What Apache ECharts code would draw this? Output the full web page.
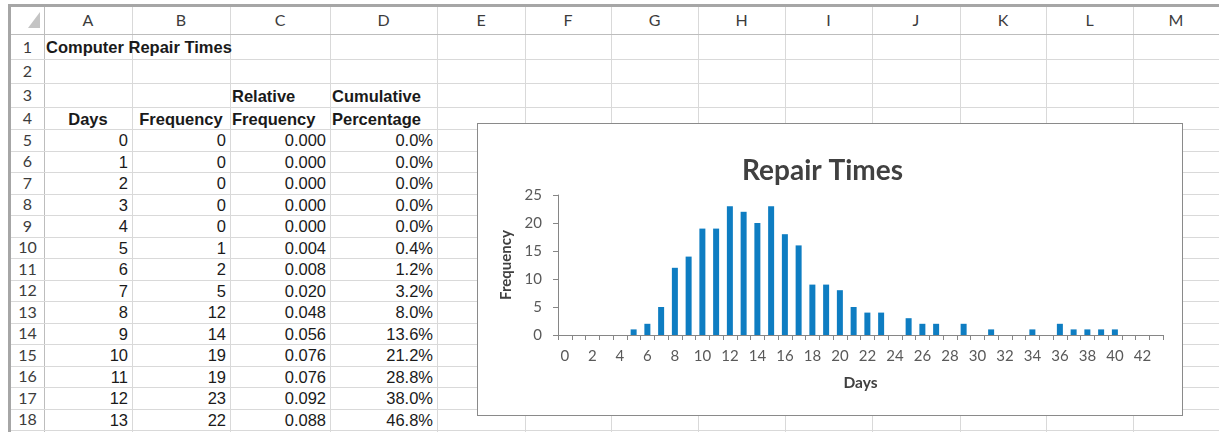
<!DOCTYPE html>
<html>
<head>
<meta charset="utf-8">
<script src="https://cdn.jsdelivr.net/npm/echarts@6/dist/echarts.min.js"></script>
<style>
  html, body { margin: 0; padding: 0; background: #fff; width: 1219px; height: 432px; overflow: hidden; }
  #sheet { position: absolute; left: 0; top: 0; width: 1219px; height: 432px; }
  .vl { position: absolute; width: 1px; background: #d9d9d9; }
  .hl { position: absolute; height: 1px; background: #d9d9d9; }
  .cell { position: absolute; font-family: "Liberation Sans", Arial, sans-serif; font-size: 16.5px; color: #1a1a1a; white-space: nowrap; line-height: 1; }
  .hdr { position: absolute; font-family: "Lato", "Open Sans", sans-serif; font-size: 16px; color: #3c3c3c; line-height: 1; }
  #chart { position: absolute; left: 477px; top: 123px; width: 706px; height: 293px; box-sizing: border-box; border: 1px solid #8a8a8a; background: #fff; }
</style>
</head>
<body>
<div id="sheet"></div>
<div id="chart"></div>
<script>
// ---------- data ----------
const colLetters = ['A','B','C','D','E','F','G','H','I','J','K','L','M'];
const tableTitle = 'Computer Repair Times';
const headRow3 = ['', '', 'Relative', 'Cumulative'];
const headRow4 = ['Days', 'Frequency', 'Frequency', 'Percentage'];
const tableDays = ['0','1','2','3','4','5','6','7','8','9','10','11','12','13'];
const tableFreq = ['0','0','0','0','0','1','2','5','12','14','19','19','23','22'];
const tableRel  = ['0.000','0.000','0.000','0.000','0.000','0.004','0.008','0.020','0.048','0.056','0.076','0.076','0.092','0.088'];
const tableCum  = ['0.0%','0.0%','0.0%','0.0%','0.0%','0.4%','1.2%','3.2%','8.0%','13.6%','21.2%','28.8%','38.0%','46.8%'];

const chartTitle = 'Repair Times';
const xAxisName = 'Days';
const yAxisName = 'Frequency';
const dayCategories = ['0','1','2','3','4','5','6','7','8','9','10','11','12','13','14','15','16','17','18','19','20','21','22','23','24','25','26','27','28','29','30','31','32','33','34','35','36','37','38','39','40','41','42','43'];
const frequency = [0,0,0,0,0,1,2,5,12,14,19,19,23,22,20,23,18,16,9,9,8,5,4,4,0,3,2,2,0,2,0,1,0,0,1,0,2,1,1,1,1,0,0,0];

// ---------- spreadsheet layout ----------
const colX = [11, 44, 132, 230, 330, 437, 525, 611, 698, 785, 872, 960, 1046, 1133, 1219];
const rowY = [7, 34, 59, 83, 107, 129];
for (let i = 0; i < 14; i++) rowY.push(129 + (i + 1) * 21.5);

const sheet = document.getElementById('sheet');
function add(cls, css, text) {
  const d = document.createElement('div');
  d.className = cls;
  Object.assign(d.style, css);
  if (text !== undefined) d.textContent = text;
  sheet.appendChild(d);
  return d;
}
// outer frame
add('hl', {left: '8px', top: '4px', width: '1211px', height: '3px', background: '#a6a6a6'});
add('vl', {left: '8px', top: '4px', width: '3px', height: '428px', background: '#a6a6a6'});
// vertical grid lines
colX.forEach((x, i) => { if (i > 0 && i < colX.length - 1) add('vl', {left: x + 'px', top: '7px', height: '425px', background: i === 1 ? '#bdbdbd' : '#d9d9d9'}); });
// horizontal grid lines
rowY.forEach((y, i) => { if (i > 0) add('hl', {left: '11px', top: Math.round(y) + 'px', width: '1208px', background: i === 1 ? '#bdbdbd' : '#d9d9d9'}); });
// corner triangle
add('vl', {left: '28px', top: '12px', width: '0', height: '0', background: 'transparent',
  borderLeft: '12px solid transparent', borderBottom: '16px solid #c4c4c4'});
// column letters
colLetters.forEach((c, i) => {
  const cx = (colX[i + 1] + colX[i + 2]) / 2;
  add('hdr', {left: (cx - 20) + 'px', width: '40px', textAlign: 'center', top: '12px'}, c);
});
// row numbers
for (let r = 1; r <= 18; r++) {
  const y0 = rowY[r], y1 = rowY[r + 1];
  add('hdr', {left: '11px', width: '33px', textAlign: 'center', top: ((y0 + y1) / 2 - 8) + 'px'}, String(r));
}
function cellText(colIdx, rowIdx, text, align, bold) {
  const x0 = colX[colIdx + 1], x1 = colX[colIdx + 2];
  const y0 = rowY[rowIdx], y1 = rowY[rowIdx + 1];
  const css = {top: ((y0 + y1) / 2 - 7.5) + 'px', fontWeight: bold ? 'bold' : 'normal'};
  if (align === 'right') { css.left = x0 + 'px'; css.width = (x1 - x0 - 4) + 'px'; css.textAlign = 'right'; }
  else if (align === 'center') { css.left = x0 + 'px'; css.width = (x1 - x0) + 'px'; css.textAlign = 'center'; }
  else { css.left = (x0 + 2) + 'px'; }
  add('cell', css, text);
}
cellText(0, 1, tableTitle, 'left', true);
headRow3.forEach((t, i) => { if (t) cellText(i, 3, t, 'left', true); });
headRow4.forEach((t, i) => cellText(i, 4, t, i < 2 ? 'center' : 'left', true));
for (let i = 0; i < tableDays.length; i++) {
  cellText(0, 5 + i, tableDays[i], 'right');
  cellText(1, 5 + i, tableFreq[i], 'right');
  cellText(2, 5 + i, tableRel[i], 'right');
  cellText(3, 5 + i, tableCum[i], 'right');
}

// ---------- chart ----------
const chart = echarts.init(document.getElementById('chart'), null, {renderer: 'canvas'});
const axisColor = '#868686';
const labelFont = {fontFamily: 'Lato', fontSize: 15, color: '#595959'};
chart.setOption({
  animation: false,
  title: {
    text: chartTitle, left: 259, top: 28,
    textStyle: {fontFamily: 'Lato', fontWeight: 'bold', fontSize: 28, color: '#404040'}
  },
  grid: {left: 80, top: 71, width: 605, height: 140, containLabel: false},
  xAxis: {
    type: 'category', data: dayCategories, boundaryGap: true,
    name: xAxisName, nameLocation: 'middle', nameGap: 40,
    nameTextStyle: {fontFamily: 'Lato', fontWeight: 'bold', fontSize: 15.5, color: '#404040'},
    axisLine: {show: true, lineStyle: {color: axisColor, width: 1}},
    axisTick: {show: true, interval: 0, length: 5, lineStyle: {color: axisColor}},
    axisLabel: Object.assign({interval: 1, margin: 14}, labelFont),
    splitLine: {show: false}
  },
  yAxis: {
    type: 'value', min: 0, max: 25, interval: 5,
    name: yAxisName, nameLocation: 'middle', nameGap: 42, nameRotate: 90,
    nameTextStyle: {fontFamily: 'Lato', fontWeight: 'bold', fontSize: 15, color: '#404040'},
    axisLine: {show: true, lineStyle: {color: axisColor, width: 1}},
    axisTick: {show: true, length: 5, lineStyle: {color: axisColor}},
    axisLabel: Object.assign({margin: 16}, labelFont),
    splitLine: {show: false}
  },
  series: [{
    type: 'bar', data: frequency, barWidth: 6,
    itemStyle: {color: '#0E7DC2'}
  }]
});
</script>
</body>
</html>
